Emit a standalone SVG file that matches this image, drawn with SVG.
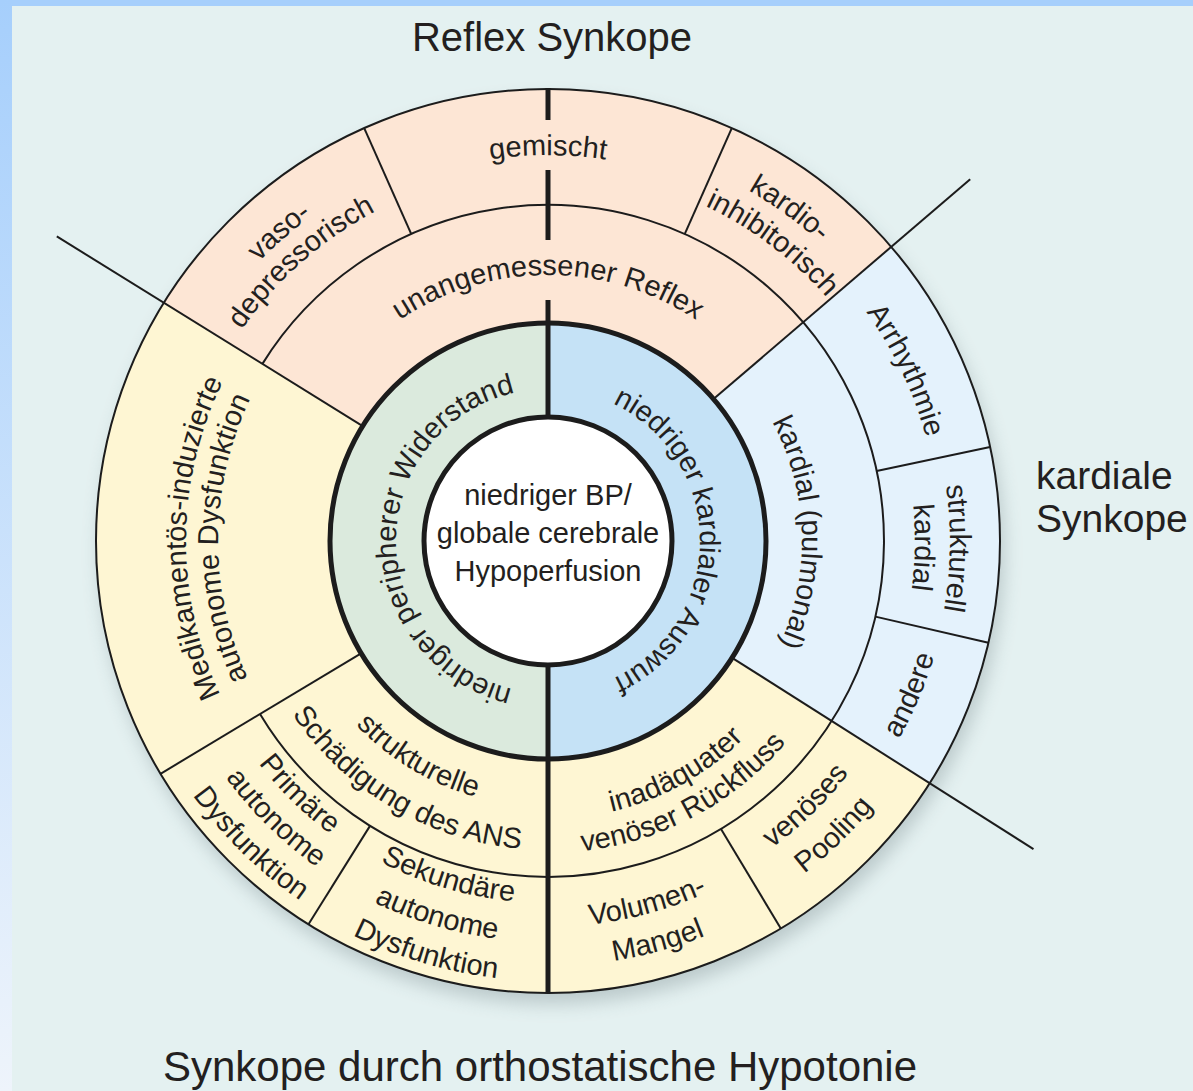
<svg xmlns="http://www.w3.org/2000/svg" width="1193" height="1091" viewBox="0 0 1193 1091">
<style>
.t{font-family:"Liberation Sans",Arial,sans-serif;font-size:29px;fill:#231f20;text-anchor:middle}
.title{font-family:"Liberation Sans",Arial,sans-serif;fill:#231f20}
.thin{fill:none;stroke:#1c1c1c;stroke-width:2}
.thick{fill:none;stroke:#1c1c1c;stroke-width:5}
</style>
<defs>
<linearGradient id="lg" x1="0" y1="0" x2="0" y2="1">
<stop offset="0" stop-color="#a6cffc"/>
<stop offset="1" stop-color="#eef4fb"/>
</linearGradient>
<filter id="sh" x="-20%" y="-20%" width="140%" height="140%">
<feGaussianBlur stdDeviation="9"/>
</filter>
<path id="cw152" d="M396 541A152 152 0 0 1 700 541"/>
<path id="cw266" d="M282 541A266 266 0 0 1 814 541"/>
<path id="cw386" d="M162 541A386 386 0 0 1 934 541"/>
<path id="cw402" d="M146 541A402 402 0 0 1 950 541"/>
<path id="cw372" d="M176 541A372 372 0 0 1 920 541"/>
<path id="cw404" d="M144 541A404 404 0 0 1 952 541"/>
<path id="cw370" d="M178 541A370 370 0 0 1 918 541"/>
<path id="cw392" d="M156 541A392 392 0 0 1 940 541"/>
<path id="cw367" d="M181 541A367 367 0 0 1 915 541"/>
<path id="cw254" d="M294 541A254 254 0 0 1 802 541"/>
<path id="cw362" d="M186 541A362 362 0 0 1 910 541"/>
<path id="cw330" d="M218 541A330 330 0 0 1 878 541"/>
<path id="cc403" d="M145 541A403 403 0 0 0 951 541"/>
<path id="cc266" d="M282 541A266 266 0 0 0 814 541"/>
<path id="cc309" d="M239 541A309 309 0 0 0 857 541"/>
<path id="cc365" d="M183 541A365 365 0 0 0 913 541"/>
<path id="cc400" d="M148 541A400 400 0 0 0 948 541"/>
<path id="cc437" d="M111 541A437 437 0 0 0 985 541"/>
<path id="cc362" d="M186 541A362 362 0 0 0 910 541"/>
<path id="cc401" d="M147 541A401 401 0 0 0 949 541"/>
<path id="cc440" d="M108 541A440 440 0 0 0 988 541"/>
<path id="cc278" d="M270 541A278 278 0 0 0 826 541"/>
<path id="cc312" d="M236 541A312 312 0 0 0 860 541"/>
<path id="cc386" d="M162 541A386 386 0 0 0 934 541"/>
<path id="cc425" d="M123 541A425 425 0 0 0 973 541"/>
<path id="cc380" d="M168 541A380 380 0 0 0 928 541"/>
<path id="cc420" d="M128 541A420 420 0 0 0 968 541"/>
</defs>

<!-- background -->
<rect x="0" y="0" width="1193" height="1091" fill="#e4f1f1"/>
<rect x="0" y="0" width="1193" height="6" fill="#a6cffc"/>
<rect x="0" y="0" width="12" height="1091" fill="url(#lg)"/>

<!-- shadow -->
<circle cx="552" cy="552" r="452" fill="#8a9a9c" opacity="0.45" filter="url(#sh)"/>

<!-- sectors -->
<g id="orthostatisch-sektor">
<circle cx="548" cy="541" r="452" fill="#fef6d3"/>
</g>
<g id="reflex-sektor">
<path d="M163.8 302.8A452 452 0 0 1 891.2 246.8L713.5 399.1A218 218 0 0 0 362.7 426.1Z" fill="#fde6d5"/>
</g>
<g id="kardial-sektor">
<path d="M891.2 246.8A452 452 0 0 1 929.6 783.2L732.1 657.8A218 218 0 0 0 713.5 399.1Z" fill="#e4f2fc"/>
</g>
<g id="widerstand-ring">
<path d="M548 323A218 218 0 0 0 548 759Z" fill="#dbeadd"/>
</g>
<g id="auswurf-ring">
<path d="M548 323A218 218 0 0 1 548 759Z" fill="#c5e2f6"/>
</g>
<g id="zentrum">
<circle cx="548" cy="541" r="124" fill="#ffffff"/>
</g>

<!-- connectors / divider lines -->
<g id="connectors">
<circle class="thin" cx="548" cy="541" r="452" stroke-width="2.5"/>
<path class="thin" d="M262.4 363.9A336 336 0 1 1 260.0 714.0"/>
<line class="thin" x1="362.7" y1="426.1" x2="56.8" y2="236.4"/>
<line class="thin" x1="713.5" y1="399.1" x2="970.2" y2="179.2"/>
<line class="thin" x1="732.1" y1="657.8" x2="1033.5" y2="849.1"/>
<line class="thin" x1="361.1" y1="653.3" x2="160.5" y2="773.8"/>
<line class="thin" x1="411.3" y1="234.1" x2="364.2" y2="128.1"/>
<line class="thin" x1="684.7" y1="234.1" x2="731.8" y2="128.1"/>
<line class="thin" x1="876.7" y1="471.1" x2="990.1" y2="447.0"/>
<line class="thin" x1="875.4" y1="616.6" x2="988.4" y2="642.7"/>
<line class="thin" x1="721.0" y1="829.0" x2="780.8" y2="928.5"/>
<line class="thin" x1="370.0" y1="825.9" x2="308.5" y2="924.3"/>
<circle class="thick" cx="548" cy="541" r="218"/>
<circle class="thick" cx="548" cy="541" r="124"/>
<line class="thick" x1="548" y1="88" x2="548" y2="120"/>
<line class="thick" x1="548" y1="170" x2="548" y2="240"/>
<line class="thick" x1="548" y1="300" x2="548" y2="417"/>
<line class="thick" x1="548" y1="665" x2="548" y2="993"/>
</g>

<!-- labels -->
<g id="titel-reflex"><text class="title" x="552" y="51" font-size="40" text-anchor="middle">Reflex Synkope</text></g>
<g id="titel-kardial"><text class="title" font-size="39" x="1036" y="489">kardiale</text><text class="title" font-size="39" x="1036" y="532">Synkope</text></g>
<g id="titel-orthostatisch"><text class="title" x="540" y="1081" font-size="42" text-anchor="middle">Synkope durch orthostatische Hypotonie</text></g>

<g id="node-zentrum">
<text class="t" x="548" y="505">niedriger BP/</text>
<text class="t" x="548" y="543">globale cerebrale</text>
<text class="t" x="548" y="581">Hypoperfusion</text>
</g>
<g id="node-widerstand"><text class="t" transform="rotate(270.5 548 541)"><textPath href="#cw152" startOffset="50%">niedriger peripherer Widerstand</textPath></text></g>
<g id="node-auswurf"><text class="t" transform="rotate(90 548 541)"><textPath href="#cw152" startOffset="50%">niedriger kardialer Auswurf</textPath></text></g>
<g id="node-unangemessen"><text class="t"><textPath href="#cw266" startOffset="50%">unangemessener Reflex</textPath></text></g>
<g id="node-gemischt"><text class="t"><textPath href="#cw386" startOffset="50%">gemischt</textPath></text></g>
<g id="node-vasodepressorisch">
<text class="t" transform="rotate(-41 548 541)"><textPath href="#cw402" startOffset="50%">vaso-</textPath></text>
<text class="t" transform="rotate(-41.5 548 541)"><textPath href="#cw372" startOffset="50%">depressorisch</textPath></text>
</g>
<g id="node-kardioinhibitorisch">
<text class="t" transform="rotate(36 548 541)"><textPath href="#cw404" startOffset="50%">kardio-</textPath></text>
<text class="t" transform="rotate(37 548 541)"><textPath href="#cw370" startOffset="50%">inhibitorisch</textPath></text>
</g>
<g id="node-arrhythmie"><text class="t" transform="rotate(64.5 548 541)"><textPath href="#cw392" startOffset="50%">Arrhythmie</textPath></text></g>
<g id="node-strukturell-kardial">
<text class="t" transform="rotate(91 548 541)"><textPath href="#cw402" startOffset="50%">strukturell</textPath></text>
<text class="t" transform="rotate(91 548 541)"><textPath href="#cw367" startOffset="50%">kardial</textPath></text>
</g>
<g id="node-andere"><text class="t" transform="rotate(-67 548 541)"><textPath href="#cc403" startOffset="50%">andere</textPath></text></g>
<g id="node-kardial-pulmonal"><text class="t" transform="rotate(88 548 541)"><textPath href="#cw254" startOffset="50%">kardial (pulmonal)</textPath></text></g>
<g id="node-medikamentoes">
<text class="t" transform="rotate(270.5 548 541)"><textPath href="#cw362" startOffset="50%">Medikamentös-induzierte</textPath></text>
<text class="t" transform="rotate(270.5 548 541)"><textPath href="#cw330" startOffset="50%">autonome Dysfunktion</textPath></text>
</g>
<g id="node-ans">
<text class="t" transform="rotate(31 548 541)"><textPath href="#cc266" startOffset="50%">strukturelle</textPath></text>
<text class="t" transform="rotate(30.5 548 541)"><textPath href="#cc309" startOffset="50%">Schädigung des ANS</textPath></text>
</g>
<g id="node-primaer">
<text class="t" transform="rotate(44.5 548 541)"><textPath href="#cc365" startOffset="50%">Primäre</textPath></text>
<text class="t" transform="rotate(44.5 548 541)"><textPath href="#cc400" startOffset="50%">autonome</textPath></text>
<text class="t" transform="rotate(44.5 548 541)"><textPath href="#cc437" startOffset="50%">Dysfunktion</textPath></text>
</g>
<g id="node-sekundaer">
<text class="t" transform="rotate(16.5 548 541)"><textPath href="#cc362" startOffset="50%">Sekundäre</textPath></text>
<text class="t" transform="rotate(16.5 548 541)"><textPath href="#cc401" startOffset="50%">autonome</textPath></text>
<text class="t" transform="rotate(16.5 548 541)"><textPath href="#cc440" startOffset="50%">Dysfunktion</textPath></text>
</g>
<g id="node-venoeser-rueckfluss">
<text class="t" transform="rotate(-29 548 541)"><textPath href="#cc278" startOffset="50%">inadäquater</textPath></text>
<text class="t" transform="rotate(-28 548 541)"><textPath href="#cc312" startOffset="50%">venöser Rückfluss</textPath></text>
</g>
<g id="node-volumen">
<text class="t" transform="rotate(-15.3 548 541)"><textPath href="#cc386" startOffset="50%">Volumen-</textPath></text>
<text class="t" transform="rotate(-15.3 548 541)"><textPath href="#cc425" startOffset="50%">Mangel</textPath></text>
</g>
<g id="node-pooling">
<text class="t" transform="rotate(-44.2 548 541)"><textPath href="#cc380" startOffset="50%">venöses</textPath></text>
<text class="t" transform="rotate(-44.2 548 541)"><textPath href="#cc420" startOffset="50%">Pooling</textPath></text>
</g>
</svg>
